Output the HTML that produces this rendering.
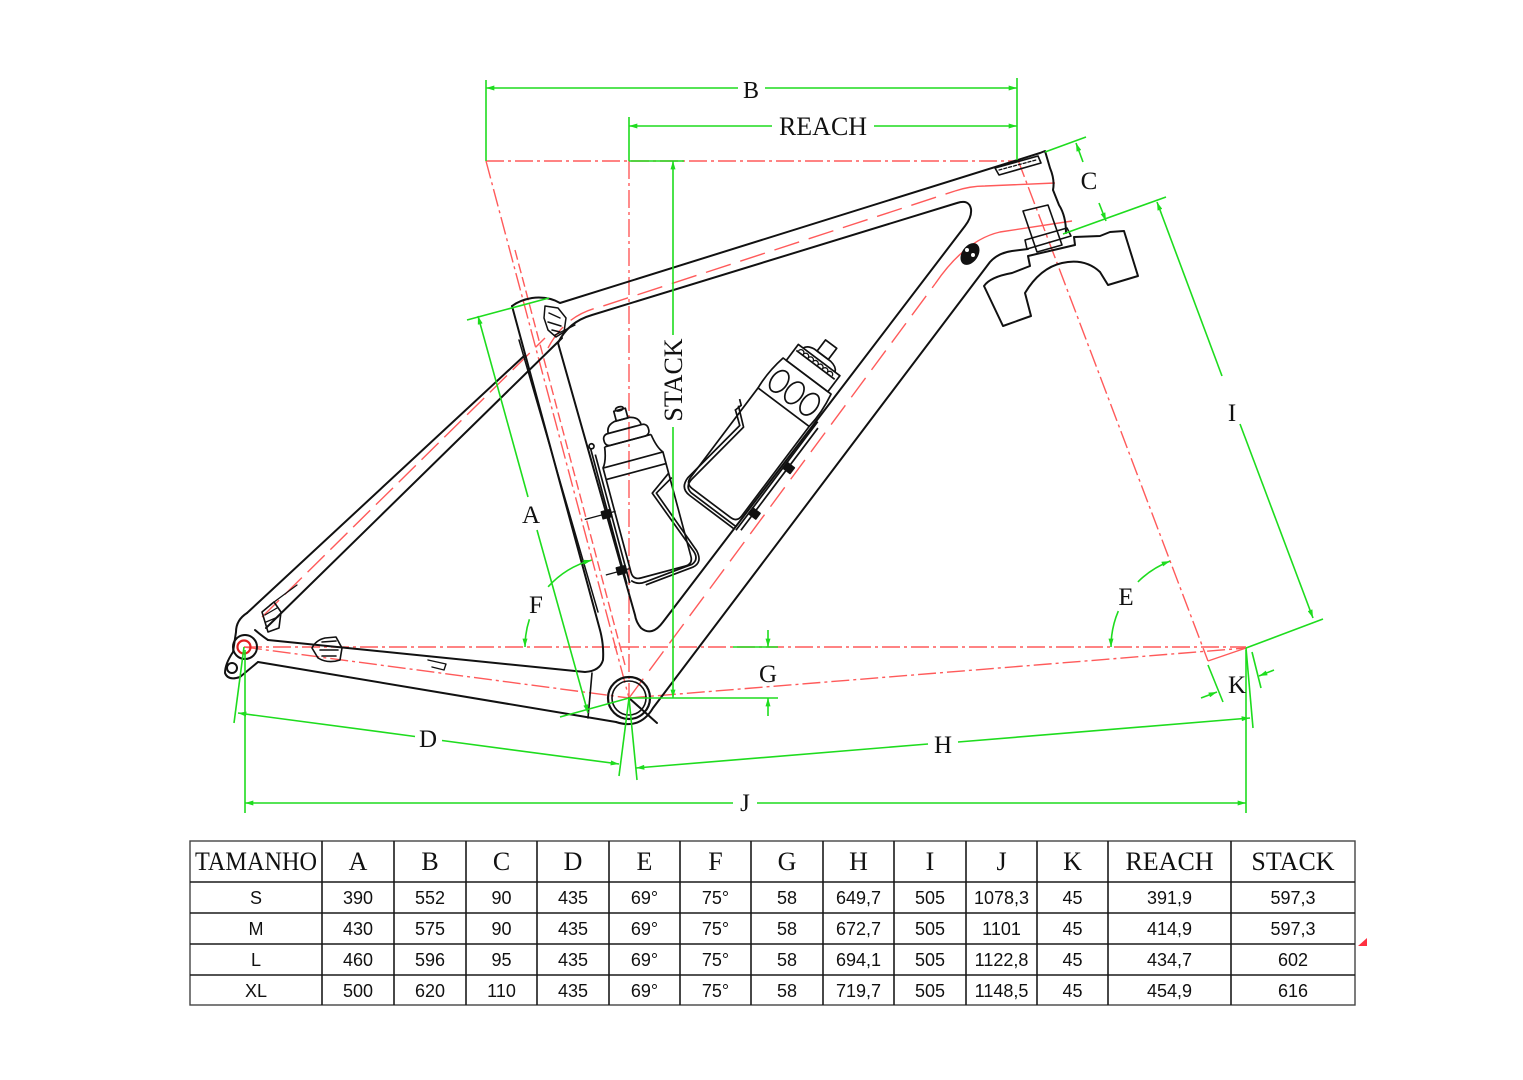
<!DOCTYPE html>
<html>
<head>
<meta charset="utf-8">
<style>
html,body{margin:0;padding:0;background:#fff;}
svg{display:block;}
.lbl{font-family:"Liberation Serif",serif;fill:#111;text-anchor:middle;}
.num{font-family:"Liberation Sans",sans-serif;fill:#111;text-anchor:middle;font-size:18px;}
.hd{font-family:"Liberation Serif",serif;fill:#111;text-anchor:middle;font-size:26px;}
</style>
</head>
<body>
<svg width="1523" height="1080" viewBox="0 0 1523 1080" xmlns="http://www.w3.org/2000/svg">
<defs>
<marker id="a" viewBox="0 0 10 6" refX="10" refY="3" markerWidth="9" markerHeight="5" markerUnits="userSpaceOnUse" orient="auto-start-reverse">
<path d="M0,0 L10,3 L0,6 z" fill="#1edc1e"/>
</marker>
</defs>
<rect width="1523" height="1080" fill="#fff"/>

<!-- RED CENTER LINES -->
<g stroke="#ff5a5a" stroke-width="1.4" fill="none" stroke-dasharray="18 4 3 4">
<line x1="486" y1="161" x2="1018" y2="161"/>
<line x1="629" y1="161" x2="629" y2="698"/>
<line x1="486" y1="161" x2="629" y2="698"/>
<line x1="244" y1="647" x2="1246" y2="647"/>
<line x1="244" y1="647" x2="629" y2="698"/>
<line x1="629" y1="698" x2="1246" y2="648"/>
<line x1="1018" y1="160" x2="1208" y2="661"/>
</g>
<g stroke="#ff5a5a" stroke-width="1.4" fill="none">
<line x1="1208" y1="661" x2="1246" y2="648"/>
<path d="M515,250 L625,665" stroke-dasharray="10 4"/>
<path d="M629,698 L935,284" stroke-dasharray="24 10"/>
<path d="M935,284 Q965,240 1000,232 L1072,221"/>
<path d="M548,348 Q565,315 600,307 L955,191" stroke-dasharray="26 10"/>
<path d="M955,191 Q970,186 985,186 L1055,183"/>
<path d="M262,617 L545,338" stroke-dasharray="24 8"/>
</g>

<!-- BLACK FRAME -->
<g stroke="#111" stroke-width="2" fill="none" stroke-linejoin="round" stroke-linecap="round">
<path d="M512,306 Q520,300 532,298 Q548,296 560,303 L1040,153 L1045,151 L1050,168 Q1055,180 1053,190 L1059,205 Q1066,216 1066,233"/>
<path d="M558,343 Q568,322 592,315 L957,203 Q969,199 971,209 Q972,217 965,226 L663,622 Q652,637 641,628 Q636,622 635,615 Z"/>
<path d="M616,722 Q640,730 653,708 L990,262 Q998,253 1012,251 L1028,249"/>
<path d="M512,306 L600,630 Q604,645 603,660 Q600,671 585,672 L268,640"/>
<path d="M519,340 L598,612" stroke-width="1.5"/>
<path d="M258,662 L616,722"/>
<path d="M592,673 L588,718" stroke-width="1.6"/>
<path d="M247,613 L524,356"/>
<path d="M266,628 L562,338"/>
<path d="M270,605 L297,585" stroke-width="1.3"/>
<circle cx="245" cy="647" r="12"/>
<path d="M247,613 Q236,620 236,632 L233,652 Q225,664 225,673 Q228,681 240,677 L258,662"/>
<circle cx="232" cy="668" r="5"/>
<path d="M255,630 Q262,636 268,640"/>
<path d="M262,612 L274,602 L281,612 L279,628 L268,632 Z" stroke-width="1.6"/>
<path d="M265,615 L277,608 M266,622 L278,617" stroke-width="1.3"/>
<path d="M312,648 Q316,640 325,638 L336,637 L342,648 L340,660 Q328,664 318,658 Z" stroke-width="1.6"/>
<path d="M322,642 L336,641 M320,650 L338,650 M322,656 L336,656" stroke-width="1.6"/>
<path d="M428,660 L446,664 L444,670 L432,667" stroke-width="1.4"/>
<circle cx="629" cy="698" r="21" stroke-width="2.2"/>
<circle cx="629" cy="698" r="17" stroke-width="1.6"/>
<line x1="629" y1="698" x2="657" y2="723"/>
<path d="M995,168 L1038,156 L1041,163 L999,175 Z" stroke-width="1.6"/>
<path d="M999,170 L1036,160" stroke-dasharray="3 2" stroke-width="1.3"/>
<path d="M1023,211 L1048,205 L1062,245 L1037,252 Z" stroke-width="1.6"/>
<path d="M1025,240 L1067,228 L1071,236 L1027,249 Z" stroke-width="1.6"/>
<path d="M984,286 Q990,277 1012,273 L1030,266 L1028,256 L1058,249 L1075,245 L1074,237 L1100,236 L1110,232 L1124,231 L1138,276 L1108,285 L1100,272 Q1085,258 1062,263 Q1040,268 1025,293 L1031,316 L1003,326 Z"/>
<path d="M545,306 L558,308 L566,318 L564,332 L556,337 L548,330 L544,318 Z" stroke-width="1.5"/>
<path d="M549,313 L560,318 M548,322 L561,326 M552,330 L560,332" stroke-width="1.5"/>
<path d="M555,335 L575,325" stroke-width="1.3"/>
</g>
<ellipse cx="970" cy="254" rx="8" ry="12" transform="rotate(35 970 254)" fill="#111"/>
<circle cx="967" cy="250" r="2" fill="#fff"/><circle cx="973" cy="255" r="2" fill="#fff"/>
<circle cx="244" cy="647" r="6.5" fill="none" stroke="#e02020" stroke-width="2.2"/>

<!-- BOTTLE 1 -->
<g transform="translate(633,460) rotate(-15)" stroke="#111" stroke-width="1.7" fill="none" stroke-linejoin="round">
<path d="M-31,0 L-31,108 Q-31,116 -23,116 L23,116 Q31,116 31,108 L31,0 Z"/>
<path d="M-31,12 L31,12"/>
<path d="M-31,0 Q-26,-6 -24,-20 M31,0 Q26,-6 24,-20 M-24,-20 L24,-20"/>
<rect x="-23" y="-32" width="46" height="12" rx="5"/>
<path d="M-17,-32 Q-17,-40 -8,-42 L8,-42 Q17,-40 17,-32"/>
<rect x="-6" y="-52" width="12" height="10"/>
<ellipse cx="0" cy="-53" rx="4" ry="2"/>
<path d="M-38,-22 L-38,118 M-35,-15 L-35,118"/>
<circle cx="-36.5" cy="-24" r="2.5"/>
<rect x="-44" y="42" width="9" height="7" fill="#111"/>
<rect x="-44" y="100" width="9" height="7" fill="#111"/>
<path d="M-62,45 L-30,45 M-56,104 L-32,104" stroke-width="1.3"/>
<path d="M31,22 L10,37 L35,104 Q38,113 30,116 L-20,121 Q-28,122 -33,116"/>
<path d="M33,27 L14,38 L38,104 Q41,117 30,119 L-20,124"/>
</g>

<!-- BOTTLE 2 -->
<g transform="translate(786,404) rotate(37)" stroke="#111" stroke-width="1.7" fill="none" stroke-linejoin="round">
<path d="M-32,4 L-32,116 Q-32,124 -24,124 L24,124 Q32,124 32,116 L32,4 Z"/>
<path d="M-32,4 Q-34,-15 -30,-35 L30,-35 Q34,-15 32,4"/>
<ellipse cx="-19" cy="-14" rx="8" ry="12"/>
<ellipse cx="0" cy="-14" rx="8" ry="12"/>
<ellipse cx="19" cy="-14" rx="8" ry="12"/>
<rect x="-26" y="-55" width="52" height="20"/>
<path d="M-24,-49 L24,-49"/>
<path d="M-22,-50 a3,3 0 0 1 6,0 a3,3 0 0 1 6,0 a3,3 0 0 1 6,0 a3,3 0 0 1 6,0 a3,3 0 0 1 6,0 a3,3 0 0 1 6,0 a3,3 0 0 1 6,0" stroke-width="1.3"/>
<path d="M-20,-55 Q-18,-60 -10,-61 L10,-61 Q18,-60 20,-55"/>
<rect x="-7" y="-75" width="14" height="14"/>
<path d="M-37,30 L-20,44 L-30,117 Q-31,127 -22,128 L34,128"/>
<path d="M-37,35 L-24,45 L-34,118 Q-34,131 -22,131 L34,131"/>
<path d="M-40,24 L-35,28 L-37,36"/>
<path d="M36,-5 L36,131 M40,0 L40,128"/>
<rect x="36" y="46" width="9" height="7" fill="#111"/>
<rect x="36" y="103" width="9" height="7" fill="#111"/>
</g>

<!-- GREEN DIMENSIONS -->
<g stroke="#1edc1e" stroke-width="1.6" fill="none">
<line x1="486" y1="80" x2="486" y2="161"/>
<line x1="1017" y1="78" x2="1017" y2="160"/>
<line x1="486" y1="88" x2="738" y2="88" marker-start="url(#a)"/>
<line x1="765" y1="88" x2="1017" y2="88" marker-end="url(#a)"/>
<line x1="629" y1="117" x2="629" y2="161"/>
<line x1="629" y1="126" x2="772" y2="126" marker-start="url(#a)"/>
<line x1="874" y1="126" x2="1017" y2="126" marker-end="url(#a)"/>
<line x1="629" y1="161" x2="684" y2="161"/>
<line x1="673" y1="335" x2="673" y2="161" marker-end="url(#a)"/>
<line x1="673" y1="427" x2="673" y2="698" marker-end="url(#a)"/>
<line x1="629" y1="698" x2="778" y2="698"/>
<line x1="733" y1="647" x2="778" y2="647"/>
<line x1="768" y1="630" x2="768" y2="647" marker-end="url(#a)"/>
<line x1="768" y1="716" x2="768" y2="698" marker-end="url(#a)"/>
<line x1="1045" y1="152" x2="1086" y2="137"/>
<line x1="1063" y1="234" x2="1166" y2="197"/>
<line x1="1076" y1="143" x2="1083" y2="162" marker-start="url(#a)"/>
<line x1="1099" y1="203" x2="1106" y2="221" marker-end="url(#a)"/>
<line x1="1157" y1="202" x2="1222" y2="376" marker-start="url(#a)"/>
<line x1="1240" y1="424" x2="1313" y2="618" marker-end="url(#a)"/>
<line x1="1246" y1="648" x2="1323" y2="619"/>
<path d="M1118.3,611.1 A92,92 0 0,0 1111,647" marker-end="url(#a)"/>
<path d="M1137.9,581.9 A92,92 0 0,1 1170,561.1" marker-end="url(#a)"/>
<path d="M529.4,619.2 A90,90 0 0,0 525,647" marker-end="url(#a)"/>
<path d="M548.1,586.8 A90,90 0 0,1 591.7,560.1" marker-end="url(#a)"/>
<line x1="467" y1="320" x2="549" y2="298"/>
<line x1="478" y1="316" x2="528" y2="497" marker-start="url(#a)"/>
<line x1="537" y1="530" x2="588" y2="713" marker-end="url(#a)"/>
<line x1="629" y1="698" x2="560" y2="717"/>
<line x1="244" y1="647" x2="234" y2="723"/>
<line x1="629" y1="698" x2="619" y2="776"/>
<line x1="238" y1="713" x2="415" y2="736.5" marker-start="url(#a)"/>
<line x1="442" y1="740.5" x2="619" y2="764" marker-end="url(#a)"/>
<line x1="629" y1="698" x2="637" y2="780"/>
<line x1="1246" y1="648" x2="1253" y2="728"/>
<line x1="636" y1="768" x2="928" y2="744" marker-start="url(#a)"/>
<line x1="958" y1="742" x2="1250" y2="718" marker-end="url(#a)"/>
<line x1="245" y1="650" x2="245" y2="813"/>
<line x1="1246" y1="650" x2="1246" y2="813"/>
<line x1="245" y1="803" x2="733" y2="803" marker-start="url(#a)"/>
<line x1="757" y1="803" x2="1246" y2="803" marker-end="url(#a)"/>
<line x1="1208" y1="665" x2="1223" y2="702"/>
<line x1="1252" y1="652" x2="1261" y2="688"/>
<line x1="1201" y1="698" x2="1217" y2="692" marker-end="url(#a)"/>
<line x1="1274" y1="670" x2="1259" y2="676" marker-end="url(#a)"/>
</g>

<!-- LABELS -->
<text class="lbl" x="751" y="98" font-size="24">B</text>
<text class="lbl" x="823" y="135" font-size="26">REACH</text>
<text class="lbl" font-size="26" transform="translate(682,380) rotate(-90)" x="0" y="0">STACK</text>
<text class="lbl" x="1089" y="189" font-size="25">C</text>
<text class="lbl" x="1232" y="421" font-size="25">I</text>
<text class="lbl" x="1126" y="605" font-size="25">E</text>
<text class="lbl" x="536" y="613" font-size="25">F</text>
<text class="lbl" x="531" y="523" font-size="25">A</text>
<text class="lbl" x="768" y="682" font-size="25">G</text>
<text class="lbl" x="1237" y="693" font-size="25">K</text>
<text class="lbl" x="428" y="747" font-size="25">D</text>
<text class="lbl" x="943" y="753" font-size="25">H</text>
<text class="lbl" x="745" y="811" font-size="25">J</text>

<!-- TABLE -->
<g stroke="#1a1a1a" stroke-width="1.6" fill="none">
<rect x="190" y="841" width="1165" height="164" stroke="#444" stroke-width="1.4"/>
<line x1="190" y1="882" x2="1355" y2="882"/>
<line x1="190" y1="913" x2="1355" y2="913"/>
<line x1="190" y1="944" x2="1355" y2="944"/>
<line x1="190" y1="975" x2="1355" y2="975"/>
<line x1="322" y1="841" x2="322" y2="1005"/>
<line x1="394" y1="841" x2="394" y2="1005"/>
<line x1="466" y1="841" x2="466" y2="1005"/>
<line x1="537" y1="841" x2="537" y2="1005"/>
<line x1="609" y1="841" x2="609" y2="1005"/>
<line x1="680" y1="841" x2="680" y2="1005"/>
<line x1="751" y1="841" x2="751" y2="1005"/>
<line x1="823" y1="841" x2="823" y2="1005"/>
<line x1="894" y1="841" x2="894" y2="1005"/>
<line x1="966" y1="841" x2="966" y2="1005"/>
<line x1="1037" y1="841" x2="1037" y2="1005"/>
<line x1="1108" y1="841" x2="1108" y2="1005"/>
<line x1="1231" y1="841" x2="1231" y2="1005"/>
</g>
<text class="hd" x="256" y="870" textLength="122" lengthAdjust="spacingAndGlyphs">TAMANHO</text>
<text class="hd" x="358" y="870">A</text>
<text class="hd" x="430" y="870">B</text>
<text class="hd" x="501.5" y="870">C</text>
<text class="hd" x="573" y="870">D</text>
<text class="hd" x="644.5" y="870">E</text>
<text class="hd" x="715.5" y="870">F</text>
<text class="hd" x="787" y="870">G</text>
<text class="hd" x="858.5" y="870">H</text>
<text class="hd" x="930" y="870">I</text>
<text class="hd" x="1001.5" y="870">J</text>
<text class="hd" x="1072.5" y="870">K</text>
<text class="hd" x="1169.5" y="870">REACH</text>
<text class="hd" x="1293" y="870">STACK</text>

<g class="num">
<text x="256" y="904">S</text><text x="358" y="904">390</text><text x="430" y="904">552</text><text x="501.5" y="904">90</text><text x="573" y="904">435</text><text x="644.5" y="904">69°</text><text x="715.5" y="904">75°</text><text x="787" y="904">58</text><text x="858.5" y="904">649,7</text><text x="930" y="904">505</text><text x="1001.5" y="904">1078,3</text><text x="1072.5" y="904">45</text><text x="1169.5" y="904">391,9</text><text x="1293" y="904">597,3</text>
<text x="256" y="935">M</text><text x="358" y="935">430</text><text x="430" y="935">575</text><text x="501.5" y="935">90</text><text x="573" y="935">435</text><text x="644.5" y="935">69°</text><text x="715.5" y="935">75°</text><text x="787" y="935">58</text><text x="858.5" y="935">672,7</text><text x="930" y="935">505</text><text x="1001.5" y="935">1101</text><text x="1072.5" y="935">45</text><text x="1169.5" y="935">414,9</text><text x="1293" y="935">597,3</text>
<text x="256" y="966">L</text><text x="358" y="966">460</text><text x="430" y="966">596</text><text x="501.5" y="966">95</text><text x="573" y="966">435</text><text x="644.5" y="966">69°</text><text x="715.5" y="966">75°</text><text x="787" y="966">58</text><text x="858.5" y="966">694,1</text><text x="930" y="966">505</text><text x="1001.5" y="966">1122,8</text><text x="1072.5" y="966">45</text><text x="1169.5" y="966">434,7</text><text x="1293" y="966">602</text>
<text x="256" y="997">XL</text><text x="358" y="997">500</text><text x="430" y="997">620</text><text x="501.5" y="997">110</text><text x="573" y="997">435</text><text x="644.5" y="997">69°</text><text x="715.5" y="997">75°</text><text x="787" y="997">58</text><text x="858.5" y="997">719,7</text><text x="930" y="997">505</text><text x="1001.5" y="997">1148,5</text><text x="1072.5" y="997">45</text><text x="1169.5" y="997">454,9</text><text x="1293" y="997">616</text>
</g>
<polygon points="1358,946 1367,946 1367,938" fill="#ff3040"/>
</svg>
</body>
</html>
